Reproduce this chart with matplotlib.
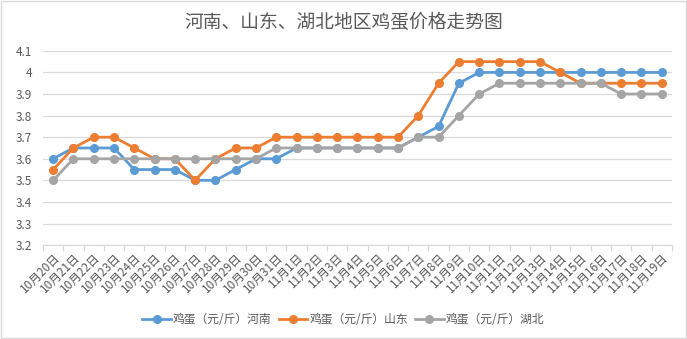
import matplotlib
matplotlib.use('Agg')
import matplotlib.pyplot as plt
import numpy as np

plt.rcParams['font.family'] = ['Noto Sans CJK SC', 'DejaVu Sans']

dates = ['10月20日', '10月21日', '10月22日', '10月23日', '10月24日', '10月25日',
         '10月26日', '10月27日', '10月28日', '10月29日', '10月30日', '10月31日',
         '11月1日', '11月2日', '11月3日', '11月4日', '11月5日', '11月6日',
         '11月7日', '11月8日', '11月9日', '11月10日', '11月11日', '11月12日',
         '11月13日', '11月14日', '11月15日', '11月16日', '11月17日', '11月18日',
         '11月19日']

henan = [3.60, 3.65, 3.65, 3.65, 3.55, 3.55, 3.55, 3.50, 3.50, 3.55, 3.60,
         3.60, 3.65, 3.65, 3.65, 3.65, 3.65, 3.65, 3.70, 3.75, 3.95, 4.00,
         4.00, 4.00, 4.00, 4.00, 4.00, 4.00, 4.00, 4.00, 4.00]
shandong = [3.55, 3.65, 3.70, 3.70, 3.65, 3.60, 3.60, 3.50, 3.60, 3.65, 3.65,
            3.70, 3.70, 3.70, 3.70, 3.70, 3.70, 3.70, 3.80, 3.95, 4.05, 4.05,
            4.05, 4.05, 4.05, 4.00, 3.95, 3.95, 3.95, 3.95, 3.95]
hubei = [3.50, 3.60, 3.60, 3.60, 3.60, 3.60, 3.60, 3.60, 3.60, 3.60, 3.60,
         3.65, 3.65, 3.65, 3.65, 3.65, 3.65, 3.65, 3.70, 3.70, 3.80, 3.90,
         3.95, 3.95, 3.95, 3.95, 3.95, 3.95, 3.90, 3.90, 3.90]

series = [('鸡蛋（元/斤）河南', henan, '#5B9BD5'),
          ('鸡蛋（元/斤）山东', shandong, '#ED7D31'),
          ('鸡蛋（元/斤）湖北', hubei, '#A5A5A5')]

txt = '#595959'
fig = plt.figure(figsize=(6.87, 3.39), dpi=100)
ax = fig.add_axes([0.0626, 0.277, 0.9154, 0.573])

x = np.arange(len(dates))
for name, vals, col in series:
    ax.plot(x, vals, color=col, lw=2.0, marker='o', ms=5.5, label=name, zorder=3)

ax.set_xlim(-0.5, len(dates) - 0.5)
ax.set_ylim(3.2, 4.1)
ax.set_yticks(np.arange(3.2, 4.11, 0.1))
ax.set_yticklabels(['3.2', '3.3', '3.4', '3.5', '3.6', '3.7', '3.8', '3.9', '4', '4.1'])
ax.yaxis.grid(True, color='#D9D9D9', lw=0.9)
ax.tick_params(axis='y', length=0, labelsize=8.5, labelcolor=txt, pad=8)

# category boundaries get the tick marks, labels sit on the points
ax.set_xticks(np.arange(-0.5, len(dates), 1.0))
ax.set_xticklabels([])
ax.set_xticks(x, minor=True)
ax.set_xticklabels(dates, minor=True, rotation=45, ha='right', va='top',
                   rotation_mode='anchor', fontsize=8.5, color=txt)
ax.tick_params(axis='x', which='major', length=4, color='#D9D9D9', width=0.9)
ax.tick_params(axis='x', which='minor', length=0, pad=4)

for s in ['top', 'right', 'left']:
    ax.spines[s].set_visible(False)
ax.spines['bottom'].set_color('#D9D9D9')
ax.spines['bottom'].set_linewidth(0.9)

fig.text(0.5, 0.933, '河南、山东、湖北地区鸡蛋价格走势图', ha='center', va='center',
         fontsize=13.5, color=txt)

fig.legend(loc='center', bbox_to_anchor=(0.5, 0.058), ncol=3, frameon=False,
           fontsize=8.5, labelcolor=txt, handlelength=2.4, handletextpad=0.2,
           columnspacing=0.6)

fig.patches.append(plt.Rectangle((0.001, 0.002), 0.997, 0.995, transform=fig.transFigure,
                                 fill=False, edgecolor='#D9D9D9', lw=1))

fig.savefig('out.png', dpi=100)
